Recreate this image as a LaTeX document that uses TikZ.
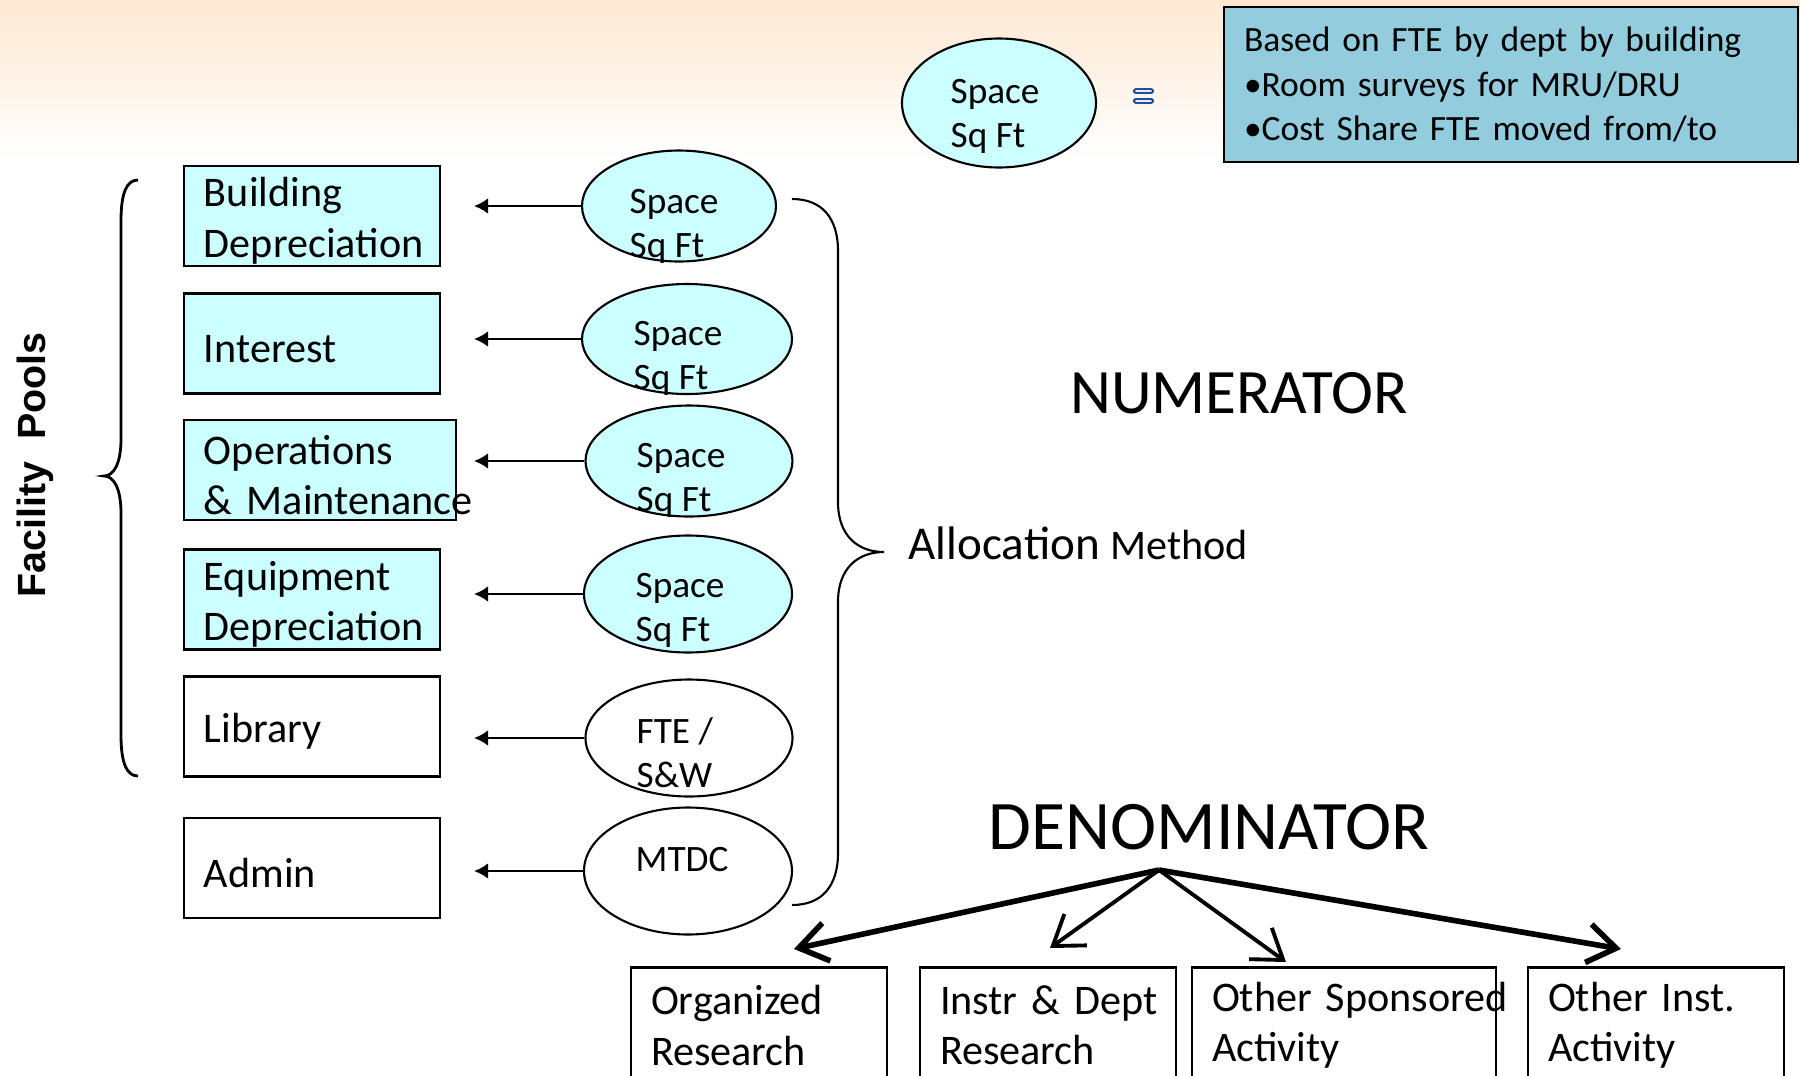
\documentclass[tikz,border=0pt]{standalone}
\usepackage{fontspec}
\setmainfont{Carlito}
\newfontfamily\poolfont{Liberation Sans}
\usetikzlibrary{arrows.meta,shapes.geometric}
\definecolor{pale}{HTML}{CCFFFF}
\definecolor{note}{HTML}{93CDDD}
\definecolor{peach}{HTML}{FDE8D2}
\definecolor{eqblue}{HTML}{1F4E9A}

\begin{document}
\begin{tikzpicture}[>={Latex[length=4pt,width=4.5pt]},
  nobreak/.style={execute at begin node={\hyphenpenalty=10000\exhyphenpenalty=10000}},
  pool/.style={draw,line width=0.8pt,text width=#1,align=left,inner xsep=0.2cm,inner ysep=0pt,
    minimum height=1cm,font=\fontsize{12}{14.3}\selectfont,
    execute at begin node={\hyphenpenalty=10000\exhyphenpenalty=10000\rule{0pt}{11pt}}},
  oval/.style={draw,ellipse,line width=0.6pt,inner sep=0pt},
  otext/.style={anchor=west,align=left,inner sep=0pt,font=\fontsize{10.6}{12.5}\selectfont},
  act/.style={draw,nobreak,line width=0.8pt,text width=#1,align=left,inner xsep=0.2cm,inner ysep=0pt,
    minimum height=1.16cm,anchor=north,font=\fontsize{12}{14.3}\selectfont}]
  \path[use as bounding box,clip] (0,0) rectangle (18,-10.76);
  \shade[top color=peach,bottom color=white] (0,0) rectangle (18,-1.6);
  % cost pools
  \node[pool=2.16cm,fill=pale] (bd) at (3.12,-2.16) {Building\\Depreciation};
  \node[pool=2.16cm,fill=pale] (int) at (3.12,-3.435) {Interest};
  \node[pool=2.32cm,fill=pale] (om) at (3.20,-4.70) {Operations\\\&~Maintenance};
  \node[pool=2.16cm,fill=pale] (ed) at (3.12,-5.995) {Equipment\\Depreciation};
  \node[pool=2.16cm,fill=white] (lib) at (3.12,-7.265) {Library};
  \node[pool=2.16cm,fill=white] (adm) at (3.12,-8.68) {Admin};
  % allocation bases
  \node[oval,fill=pale,minimum width=1.94cm,minimum height=1.11cm] (e1) at (6.79,-2.06) {};
  \node[oval,fill=pale,minimum width=2.10cm,minimum height=1.10cm] (e2) at (6.87,-3.39) {};
  \node[oval,fill=pale,minimum width=2.07cm,minimum height=1.11cm] (e3) at (6.89,-4.61) {};
  \node[oval,fill=pale,minimum width=2.08cm,minimum height=1.17cm] (e4) at (6.88,-5.94) {};
  \node[oval,fill=white,minimum width=2.07cm,minimum height=1.17cm] (e5) at (6.89,-7.38) {};
  \node[oval,fill=white,minimum width=2.08cm,minimum height=1.27cm] (e6) at (6.88,-8.71) {};
  \node[otext] (t1) at ([xshift=-0.50cm,yshift=-0.20cm]e1.center) {Space\\Sq Ft};
  \node[otext] (t2) at ([xshift=-0.54cm,yshift=-0.19cm]e2.center) {Space\\Sq Ft};
  \node[otext] (t3) at ([xshift=-0.53cm,yshift=-0.19cm]e3.center) {Space\\Sq Ft};
  \node[otext] (t4) at ([xshift=-0.53cm,yshift=-0.16cm]e4.center) {Space\\Sq Ft};
  \node[otext] (t5) at ([xshift=-0.53cm,yshift=-0.15cm]e5.center) {FTE /\\S\&W};
  \node[otext] (t6) at ([xshift=-0.53cm,yshift=0.11cm]e6.center) {MTDC};
  \coordinate (ax) at (4.74,0);
  \foreach \e in {e1,e2,e3,e4,e5,e6} \draw[->,line width=0.75pt] (\e.west) -- (\e.west -| ax);
  % braces
  \draw[line width=0.8pt] (1.38,-1.80) .. controls (1.27,-1.80) and (1.21,-1.92) .. (1.21,-2.21) -- (1.21,-4.39)
    .. controls (1.21,-4.65) and (1.13,-4.76) .. (1.04,-4.76) .. controls (1.13,-4.76) and (1.21,-4.87) .. (1.21,-5.13)
    -- (1.21,-7.35) .. controls (1.21,-7.64) and (1.27,-7.76) .. (1.38,-7.76);
  \draw[line width=0.6pt] (7.92,-1.99) .. controls (8.22,-1.99) and (8.38,-2.18) .. (8.38,-2.51) -- (8.38,-5.02)
    .. controls (8.38,-5.36) and (8.58,-5.52) .. (8.84,-5.52) .. controls (8.58,-5.52) and (8.38,-5.68) .. (8.38,-6.02)
    -- (8.38,-8.53) .. controls (8.38,-8.86) and (8.22,-9.05) .. (7.92,-9.05);
  \node[rotate=90,font=\poolfont\bfseries\fontsize{11.2}{13}\selectfont] (fp) at (0.35,-4.65) {Facility~~Pools};
  % numerator side
  \node[oval,fill=pale,minimum width=1.94cm,minimum height=1.29cm] (top) at (9.99,-1.03) {};
  \node[otext] (tt) at ([xshift=-0.49cm,yshift=-0.13cm]top.center) {Space\\Sq Ft};
  \foreach \y in {-0.913,-1.007} {
    \draw[eqblue,line width=1.8pt,line cap=round] (11.36,\y) -- (11.51,\y);
    \draw[blue!8!white,line width=0.55pt,line cap=round] (11.36,\y) -- (11.51,\y);}
  \node[draw,fill=note,line width=0.8pt,minimum width=5.74cm,minimum height=1.55cm,text width=5.34cm,
    inner xsep=0.2cm,align=left,font=\fontsize{10.1}{12.6}\selectfont] (basis) at (15.11,-0.845)
    {Based on FTE by dept by building\\\textbullet Room surveys for MRU/DRU\\\textbullet Cost Share FTE moved from/to};
  \node[font=\fontsize{18}{22}\selectfont] (num) at (12.39,-3.93) {NUMERATOR};
  \node[anchor=west,inner sep=0pt] (alloc) at (9.08,-5.43)
    {\fontsize{13.4}{16}\selectfont Allocation \fontsize{12}{14}\selectfont Method};
  % denominator side
  \node[font=\fontsize{19.8}{24}\selectfont] (den) at (12.09,-8.27) {DENOMINATOR};
  \node[act=2.16cm] (orr) at (7.59,-9.66) {Organized\\Research};
  \node[act=2.16cm] (idr) at (10.48,-9.66) {Instr~\&~Dept\\Research};
  \node[act=2.64cm] (osa) at (13.44,-9.66) {Other~Sponsored\\Activity};
  \node[act=2.16cm] (oia) at (16.56,-9.66) {Other~Inst.\\Activity};
  \coordinate (apex) at (11.59,-8.70);
  \coordinate (d1) at (7.94,-9.49); \coordinate (d2) at (10.50,-9.48);
  \coordinate (d3) at (12.86,-9.62); \coordinate (d4) at (16.21,-9.49);
  \draw[-{Straight Barb[length=8pt,width=11pt]},line width=1.6pt] (apex) -- (d1);
  \draw[-{Straight Barb[length=8pt,width=11pt]},line width=1.1pt] (apex) -- (d2);
  \draw[-{Straight Barb[length=8pt,width=11pt]},line width=1.1pt] (apex) -- (d3);
  \draw[-{Straight Barb[length=8pt,width=11pt]},line width=1.6pt] (apex) -- (d4);
\end{tikzpicture}
\end{document}
